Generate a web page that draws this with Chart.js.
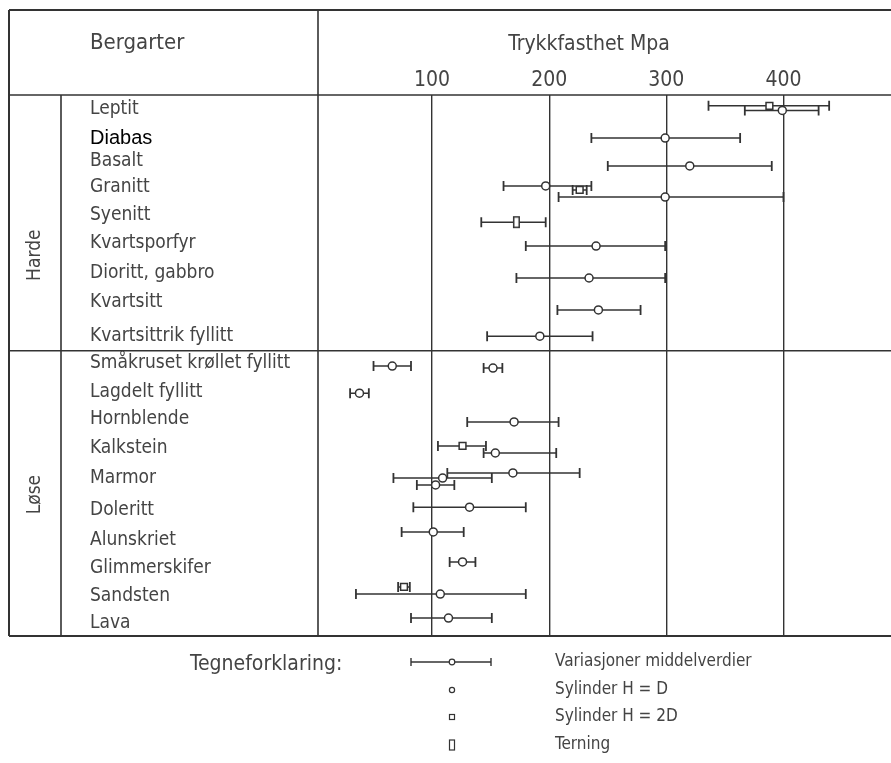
<!DOCTYPE html>
<html>
<head>
<meta charset="utf-8">
<script src="https://cdn.jsdelivr.net/npm/chart.js@4.4.1/dist/chart.umd.min.js"></script>
<style>
  html, body { margin: 0; padding: 0; background: #fff; }
  #wrap { width: 891px; height: 763px; }
</style>
</head>
<body>
<div id="wrap"><canvas id="rockChart"></canvas></div>
<script>
// rock types and where their label sits on the row axis
const rocks = ['Leptit', 'Diabas', 'Basalt', 'Granitt', 'Syenitt', 'Kvartsporfyr', 'Dioritt, gabbro',
    'Kvartsitt', 'Kvartsittrik fyllitt', 'Småkruset krøllet fyllitt', 'Lagdelt fyllitt', 'Hornblende',
    'Kalkstein', 'Marmor', 'Doleritt', 'Alunskriet', 'Glimmerskifer', 'Sandsten', 'Lava'];
const rockRow = [0.08, 1.12, 1.9, 2.8, 3.8, 4.78, 5.83, 6.85, 8.04, 8.97, 10.01, 10.96, 11.97, 13.03,
    14.15, 15.2, 16.19, 17.17, 18.12];

const groups = ['Harde', 'Løse'];
const groupLabelRow = [5.2, 13.6];
const groupSplit = 8.55;

// one entry per range bar (MPa): row, low, mean, high, specimen type
const barRow = [-0.04, 0.12, 1.09, 2.07, 2.77, 2.91, 3.16, 4.04, 4.88, 6.0, 7.12, 8.04, 9.09, 9.16,
    10.04, 11.05, 11.89, 12.14, 12.84, 13.02, 13.26, 14.04, 14.91, 15.96, 16.84, 17.09, 17.93];
const barLow = [336, 367, 236, 250, 161, 220, 208, 142, 180, 172, 207, 147, 50, 144,
    30, 130, 105, 144, 113, 67, 87, 84, 74, 115, 71, 35, 82];
const barMean = [388, 399, 299, 320, 197, 226, 299, 172, 240, 234, 242, 192, 66, 152,
    38, 170, 126, 154, 169, 109, 103, 132, 101, 126, 76, 107, 114];
const barHigh = [439, 430, 363, 390, 236, 232, 400, 197, 299, 299, 278, 237, 82, 160,
    46, 208, 146, 206, 226, 151, 119, 180, 127, 137, 81, 180, 151];
const barType = ['2D', 'D', 'D', 'D', 'D', '2D', 'D', 'T', 'D', 'D', 'D', 'D', 'D', 'D',
    'D', 'D', '2D', 'D', 'D', 'D', 'D', 'D', 'D', 'D', '2D', 'D', 'D'];

const xTicks = [100, 200, 300, 400];

const legendText = ['Variasjoner middelverdier', 'Sylinder H = D', 'Sylinder H = 2D', 'Terning'];

const ink = '#333';
const textInk = '#444';
const cond = "'Liberation Sans Narrow', 'DejaVu Sans Condensed', 'Roboto Condensed', sans-serif";

// tall box for "Terning"
const terning = document.createElement('canvas');
terning.width = 9;
terning.height = 14;
const tc = terning.getContext('2d');
tc.fillStyle = '#fff';
tc.fillRect(1, 1, 7, 12);
tc.strokeStyle = ink;
tc.lineWidth = 1.5;
tc.strokeRect(1.75, 1.75, 5.5, 10.5);

function markerStyle(t) {
    if (t === 'T') return terning;
    if (t === '2D') return 'rect';
    return 'circle';
}

const rangeSets = barRow.map((row, i) => ({
    data: [{ x: barLow[i], y: row }, { x: barHigh[i], y: row }],
    showLine: true,
    borderColor: ink,
    borderWidth: 1.5,
    pointStyle: 'line',
    pointRotation: 90,
    pointRadius: 5,
    pointBorderWidth: 1.8,
    pointBorderColor: ink,
    order: 2
}));

const markerSet = {
    data: barMean.map((m, i) => ({ x: m, y: barRow[i] })),
    pointStyle: c => markerStyle(barType[c.dataIndex]),
    pointRadius: c => barType[c.dataIndex] === 'D' ? 4 : 4.8,
    backgroundColor: '#fff',
    borderColor: ink,
    borderWidth: 1.5,
    order: 0
};

function line(ctx, x1, y1, x2, y2) {
    ctx.beginPath();
    ctx.moveTo(x1, y1);
    ctx.lineTo(x2, y2);
    ctx.stroke();
}

const frame = {
    id: 'frame',
    beforeDraw(chart) {
        const ctx = chart.ctx;
        ctx.save();
        ctx.fillStyle = '#fff';
        ctx.fillRect(0, 0, chart.width, chart.height);
        ctx.restore();
    },
    afterDraw(chart) {
        const { ctx, chartArea: a, scales: { y } } = chart;
        const left = 9, right = chart.width, top = 10;
        const split = y.getPixelForValue(groupSplit);
        ctx.save();
        ctx.strokeStyle = ink;
        ctx.lineWidth = 2;
        line(ctx, left, top, right, top);
        line(ctx, left, top, left, a.bottom);
        line(ctx, left, a.bottom, right, a.bottom);
        ctx.lineWidth = 1.6;
        line(ctx, left, a.top, right, a.top);
        line(ctx, a.left, top, a.left, a.bottom);
        line(ctx, 61, a.top, 61, a.bottom);
        line(ctx, left, split, right, split);

        // header texts
        ctx.fillStyle = textInk;
        ctx.textBaseline = 'middle';
        ctx.font = '22px ' + cond;
        ctx.textAlign = 'left';
        ctx.fillText('Bergarter', 90, 43);
        ctx.font = '21px ' + cond;
        ctx.textAlign = 'center';
        ctx.fillText('Trykkfasthet Mpa', 589, 45);

        // group labels
        ctx.font = '19px ' + cond;
        groups.forEach((g, i) => {
            ctx.save();
            ctx.translate(35, y.getPixelForValue(groupLabelRow[i]));
            ctx.rotate(-Math.PI / 2);
            ctx.fillText(g, 0, 0);
            ctx.restore();
        });

        // legend
        ctx.font = '21px ' + cond;
        ctx.textAlign = 'left';
        ctx.fillText('Tegneforklaring:', 190, 665);
        ctx.font = '17px ' + cond;
        const rowsY = [662, 690, 717, 745];
        legendText.forEach((t, i) => ctx.fillText(t, 555, rowsY[i]));

        const sx = 452;
        ctx.lineWidth = 1.4;
        line(ctx, 411, rowsY[0], 491, rowsY[0]);
        line(ctx, 411, rowsY[0] - 4, 411, rowsY[0] + 4);
        line(ctx, 491, rowsY[0] - 4, 491, rowsY[0] + 4);
        ctx.fillStyle = '#fff';
        ctx.lineWidth = 1.2;
        ctx.beginPath();
        ctx.arc(sx, rowsY[0], 2.8, 0, Math.PI * 2);
        ctx.fill();
        ctx.stroke();
        ctx.beginPath();
        ctx.arc(sx, rowsY[1], 2.6, 0, Math.PI * 2);
        ctx.fill();
        ctx.stroke();
        ctx.fillRect(sx - 2.5, rowsY[2] - 2.5, 5, 5);
        ctx.strokeRect(sx - 2.5, rowsY[2] - 2.5, 5, 5);
        ctx.fillRect(sx - 2.5, rowsY[3] - 5, 5, 10);
        ctx.strokeRect(sx - 2.5, rowsY[3] - 5, 5, 10);
        ctx.restore();
    }
};

const ctx = document.getElementById('rockChart').getContext('2d');
const chart = new Chart(ctx, {
    type: 'scatter',
    data: { datasets: [markerSet].concat(rangeSets) },
    options: {
        responsive: true,
        maintainAspectRatio: false,
        animation: false,
        events: [],
        layout: { padding: { top: 10, left: 90, right: 0, bottom: 127 } },
        plugins: { legend: { display: false }, tooltip: { enabled: false } },
        scales: {
            x: {
                type: 'linear',
                position: 'top',
                min: 2.6,
                max: 486,
                afterBuildTicks: s => { s.ticks = xTicks.map(v => ({ value: v })); },
                afterFit: s => { s.height = 85; },
                grid: { color: ink, lineWidth: 1.4, drawTicks: false },
                border: { display: false },
                ticks: {
                    autoSkip: false,
                    maxRotation: 0,
                    padding: 2,
                    color: textInk,
                    font: { family: cond, size: 21 }
                }
            },
            y: {
                type: 'linear',
                reverse: true,
                min: -0.42,
                max: 18.56,
                afterBuildTicks: s => { s.ticks = rockRow.map(v => ({ value: v })); },
                afterFit: s => { s.width = 228; },
                grid: { display: false },
                border: { display: false },
                ticks: {
                    autoSkip: false,
                    crossAlign: 'far',
                    callback: (v, i) => rocks[i],
                    color: c => c.index === 1 ? '#000' : textInk,
                    font: c => c.index === 1
                        ? { family: "'Liberation Sans', Arial, sans-serif", size: 20 }
                        : { family: cond, size: 19 }
                }
            }
        }
    },
    plugins: [frame]
});
</script>
</body>
</html>
